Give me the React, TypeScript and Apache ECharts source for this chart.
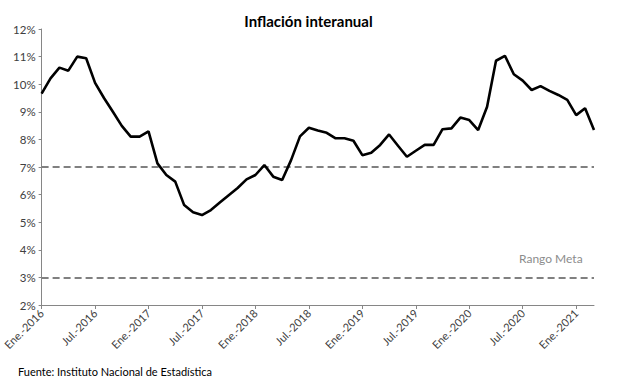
import React, { useEffect, useRef } from "react";
import * as echarts from "echarts";

const monthNames = ["Ene.", "Feb.", "Mar.", "Abr.", "May.", "Jun.", "Jul.", "Ago.", "Set.", "Oct.", "Nov.", "Dic."];
const years = [2016, 2017, 2018, 2019, 2020, 2021];
const monthCount = 63;
const categories: string[] = [];
for (const y of years) {
  for (const m of monthNames) {
    if (categories.length < monthCount) categories.push(`${m}-${y}`);
  }
}

const inflation = [
  9.66, 10.21, 10.6, 10.49, 11.0, 10.94, 10.05, 9.5, 9.0, 8.49, 8.1, 8.1,
  8.29, 7.13, 6.71, 6.47, 5.62, 5.36, 5.26, 5.44, 5.71, 5.98, 6.24, 6.55,
  6.71, 7.07, 6.65, 6.53, 7.25, 8.11, 8.42, 8.32, 8.24, 8.04, 8.04, 7.95,
  7.43, 7.52, 7.8, 8.18, 7.77, 7.37, 7.59, 7.8, 7.8, 8.37, 8.4, 8.79,
  8.7, 8.34, 9.18, 10.85, 11.03, 10.36, 10.13, 9.79, 9.93, 9.76, 9.61, 9.43,
  8.88, 9.13, 8.34,
];

const targetUpper = 7;
const targetLower = 3;
const yTicks = { min: 2, max: 12, interval: 1 };

const FONT = "Lato, 'Liberation Sans', sans-serif";

export default function App() {
  const ref = useRef<HTMLDivElement>(null);
  useEffect(() => {
    if (!ref.current) return;
    const chart = echarts.init(ref.current, undefined, { renderer: "svg" });
    chart.setOption({
      animation: false,
      backgroundColor: "#ffffff",
      textStyle: { fontFamily: FONT },
      title: {
        text: "Inflación interanual",
        left: "center",
        top: 8,
        textStyle: { fontSize: 15, fontWeight: "bold", color: "#000", fontFamily: FONT },
      },
      grid: { left: 40, right: 23, top: 29, bottom: 76, containLabel: false },
      xAxis: {
        type: "category",
        data: categories,
        boundaryGap: false,
        axisLine: { lineStyle: { color: "#868686", width: 1 } },
        axisTick: { interval: 5, length: 4, lineStyle: { color: "#868686" } },
        axisLabel: {
          interval: 5,
          rotate: 45,
          fontSize: 11,
          color: "#404040",
          margin: 6,
          fontFamily: FONT,
        },
        splitLine: { show: false },
      },
      yAxis: {
        type: "value",
        min: yTicks.min,
        max: yTicks.max,
        interval: yTicks.interval,
        axisLine: { show: true, lineStyle: { color: "#868686", width: 1 } },
        axisTick: { show: true, length: 3, lineStyle: { color: "#868686" } },
        axisLabel: {
          formatter: "{value}%",
          fontSize: 11.5,
          color: "#404040",
          margin: 6,
          fontFamily: FONT,
        },
        splitLine: { show: false },
      },
      graphic: [
        {
          type: "text",
          left: 519,
          top: 252,
          style: { text: "Rango Meta", fontSize: 12, fill: "#8c8c8c", fontFamily: FONT },
        },
        {
          type: "text",
          left: 18,
          top: 366,
          style: { text: "Fuente: Instituto Nacional de Estadística", fontSize: 11, fill: "#000", fontFamily: FONT },
        },
      ],
      series: [
        {
          type: "line",
          data: inflation,
          symbol: "none",
          lineStyle: { color: "#000", width: 2.6 },
          z: 3,
          markLine: {
            silent: true,
            symbol: ["none", "none"],
            label: { show: false },
            lineStyle: { color: "#808080", type: [7, 4], width: 2 },
            data: [{ yAxis: targetUpper }, { yAxis: targetLower }],
            z: 2,
          },
        },
      ],
    });
    return () => chart.dispose();
  }, []);
  return <div ref={ref} style={{ width: 617, height: 381, position: "absolute", left: 0, top: 0 }} />;
}
